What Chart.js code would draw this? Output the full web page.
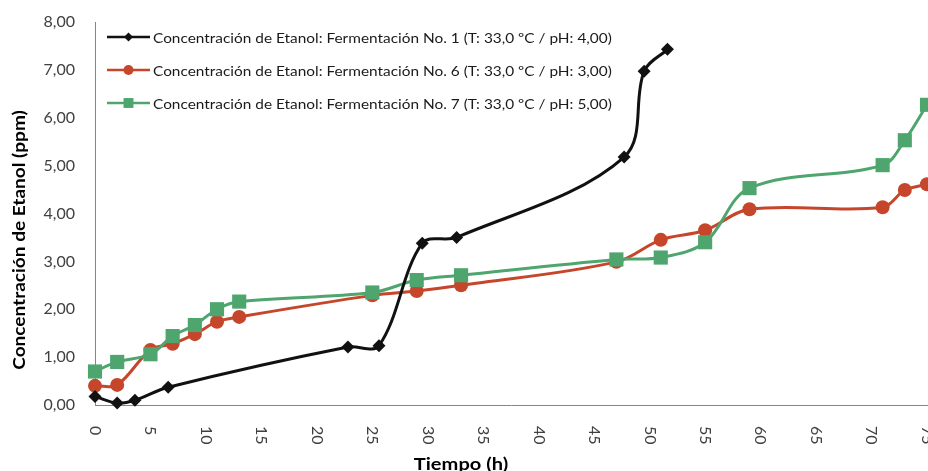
<!DOCTYPE html>
<html>
<head>
<meta charset="utf-8">
<script src="https://cdn.jsdelivr.net/npm/chart.js@4.4.0/dist/chart.umd.min.js"></script>
<style>
  html, body { margin: 0; padding: 0; background: #fff; overflow: hidden; }
  #wrap { width: 940px; height: 471px; }
</style>
</head>
<body>
<div id="wrap"><canvas id="myChart"></canvas></div>
<script>
// Fermentacion No. 1 tiene otros tiempos de muestreo
const tiempo1 = [0, 2, 3.6, 6.6, 22.8, 25.6, 29.5, 32.6, 47.7, 49.5, 51.6];
const etanol1 = [0.18, 0.04, 0.1, 0.37, 1.21, 1.24, 3.38, 3.5, 5.18, 6.97, 7.43];

// Fermentaciones No. 6 y No. 7
const tiempo67 = [0, 2, 5, 7, 9, 11, 13, 25, 29, 33, 47, 51, 55, 59, 71, 73, 75];
const etanol6 = [0.4, 0.42, 1.15, 1.28, 1.48, 1.74, 1.84, 2.29, 2.38, 2.5, 2.99, 3.45, 3.65, 4.09, 4.13, 4.49, 4.61];
const etanol7 = [0.7, 0.9, 1.06, 1.44, 1.67, 2.0, 2.16, 2.35, 2.61, 2.71, 3.04, 3.08, 3.4, 4.53, 5.01, 5.53, 6.27];

const nombres = [
  'Concentración de Etanol: Fermentación No. 1 (T: 33,0 ºC / pH: 4,00)',
  'Concentración de Etanol: Fermentación No. 6 (T: 33,0 ºC / pH: 3,00)',
  'Concentración de Etanol: Fermentación No. 7 (T: 33,0 ºC / pH: 5,00)'
];
const colores = ['#111111', '#C6462C', '#4EA56E'];
const tituloX = 'Tiempo (h)';
const tituloY = 'Concentración de Etanol (ppm)';

const pares = (xs, ys) => xs.map((x, i) => ({ x: x, y: ys[i] }));

// texto algo estirado a lo ancho, como en la imagen original
function texto(ctx, s, x, y, rot, estira) {
  ctx.save();
  ctx.translate(x, y);
  ctx.rotate(rot);
  ctx.scale(estira, 1);
  ctx.fillText(s, 0, 0);
  ctx.restore();
}

// ejes girados, titulos y leyenda tal como en Excel
const extras = {
  id: 'extras',
  afterDraw(chart) {
    const ctx = chart.ctx;
    const sx = chart.scales.x;
    ctx.save();

    ctx.fillStyle = '#404040';
    ctx.font = '16px Lato';
    ctx.textAlign = 'left';
    ctx.textBaseline = 'middle';
    sx.ticks.forEach(t => {
      texto(ctx, String(t.value), sx.getPixelForValue(t.value), 426, Math.PI / 2, 1);
    });

    ctx.fillStyle = '#000';
    ctx.font = 'bold 17px Lato';
    ctx.textAlign = 'center';
    texto(ctx, tituloX, 461, 465, 0, 1.18);
    texto(ctx, tituloY, 20, 240, -Math.PI / 2, 1.12);

    // leyenda
    chart.data.datasets.forEach((ds, i) => {
      const y = 37 + 33 * i;
      ctx.strokeStyle = ds.borderColor;
      ctx.lineWidth = 2.5;
      ctx.beginPath();
      ctx.moveTo(107, y);
      ctx.lineTo(150, y);
      ctx.stroke();
      ctx.fillStyle = ds.backgroundColor;
      Chart.helpers.drawPoint(ctx, {
        pointStyle: ds.pointStyle,
        radius: [4.5, 5, 7][i],
        rotation: 0,
        borderWidth: 0
      }, 128.5, y);
      ctx.fillStyle = '#1a1a1a';
      ctx.font = '14px Lato';
      ctx.textAlign = 'left';
      texto(ctx, ds.label, 153, y + 1, 0, 1.1);
    });

    ctx.restore();
  }
};

const ctx = document.getElementById('myChart').getContext('2d');
const myChart = new Chart(ctx, {
  type: 'line',
  data: {
    datasets: [{
      label: nombres[0],
      data: pares(tiempo1, etanol1),
      borderColor: colores[0],
      backgroundColor: colores[0],
      pointStyle: 'rectRot',
      pointRadius: 6.5,
      order: 0
    }, {
      label: nombres[1],
      data: pares(tiempo67, etanol6),
      borderColor: colores[1],
      backgroundColor: colores[1],
      pointStyle: 'circle',
      pointRadius: 7,
      order: 2
    }, {
      label: nombres[2],
      data: pares(tiempo67, etanol7),
      borderColor: colores[2],
      backgroundColor: colores[2],
      pointStyle: 'rect',
      pointRadius: 10,
      order: 1
    }]
  },
  options: {
    responsive: true,
    maintainAspectRatio: false,
    animation: false,
    layout: { padding: { top: 22, right: 13, left: 0, bottom: 0 } },
    elements: {
      line: { tension: 0.35, borderWidth: 3 },
      point: { borderWidth: 0, hoverRadius: 7 }
    },
    datasets: { line: { clip: false } },
    plugins: {
      legend: { display: false },
      tooltip: { enabled: false }
    },
    scales: {
      x: {
        type: 'linear',
        min: 0,
        max: 75,
        ticks: { stepSize: 5, display: false },
        grid: { display: false, drawTicks: false },
        border: { color: '#868686', width: 1 },
        afterFit: s => { s.height = 66; s.paddingLeft = 0; s.paddingRight = 0; }
      },
      y: {
        min: 0,
        max: 8,
        ticks: {
          stepSize: 1,
          padding: 20,
          color: '#404040',
          font: { family: 'Lato', size: 16 },
          callback: v => v.toFixed(2).replace('.', ',')
        },
        grid: { display: false, drawTicks: false },
        border: { color: '#868686', width: 1 },
        afterFit: s => { s.width = 95; s.paddingTop = 0; s.paddingBottom = 0; }
      }
    }
  },
  plugins: [extras]
});
</script>
</body>
</html>
